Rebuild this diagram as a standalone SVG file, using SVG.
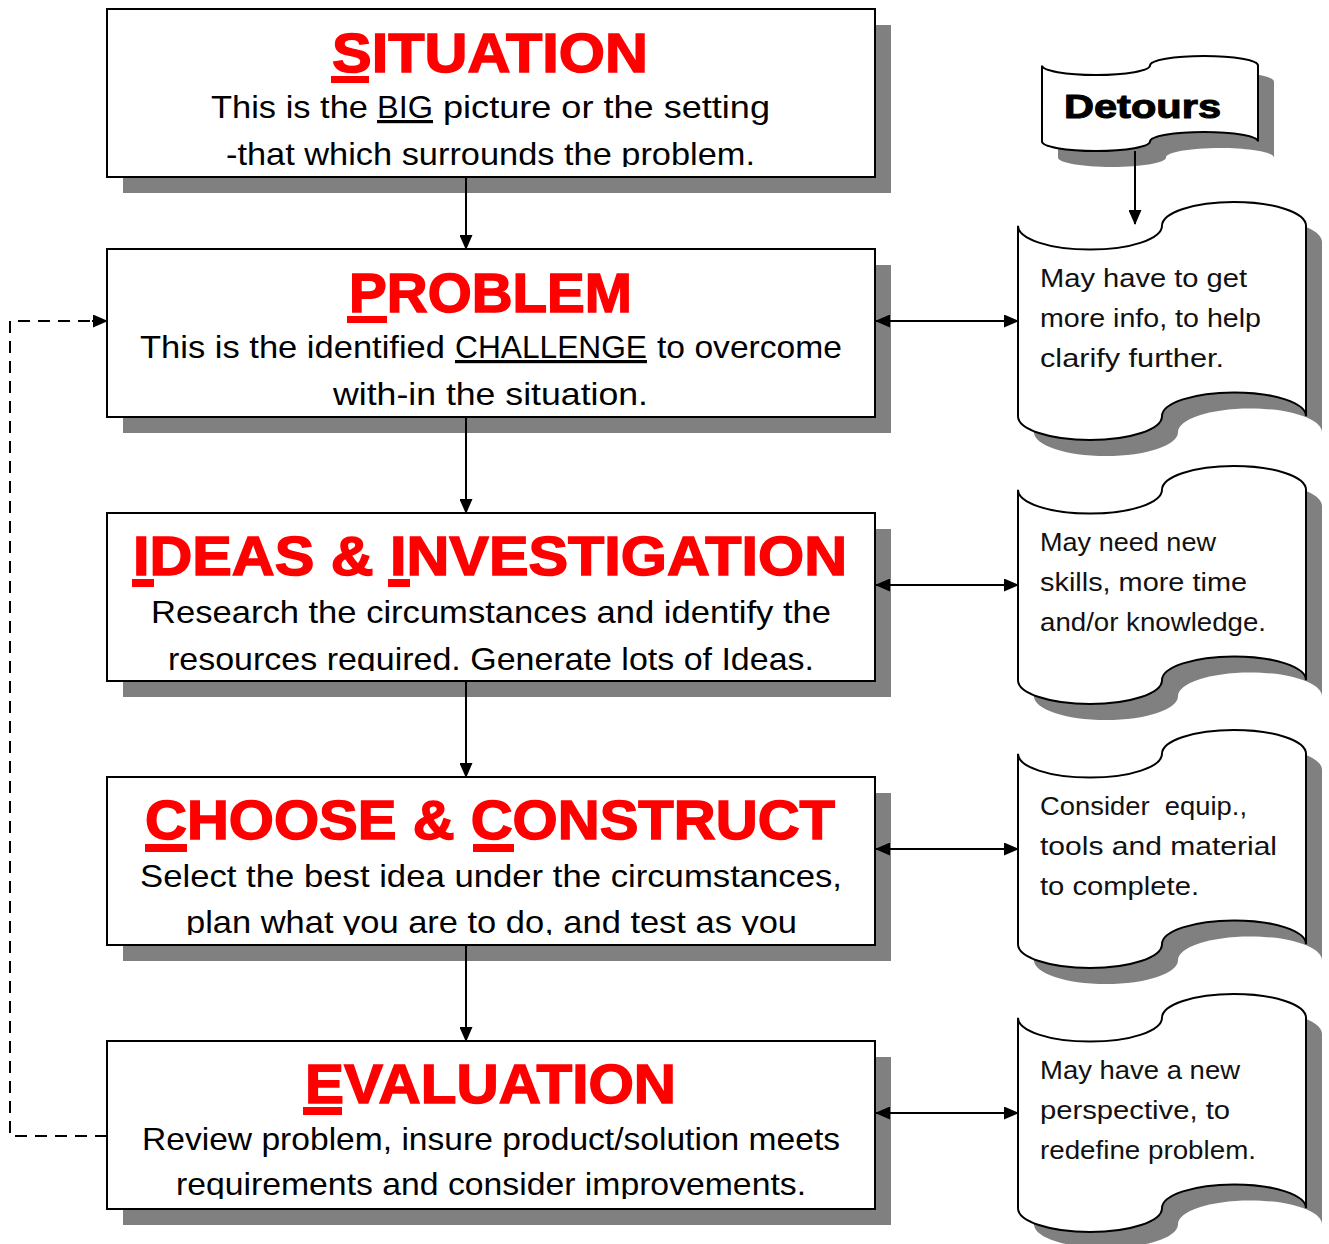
<svg xmlns="http://www.w3.org/2000/svg" xmlns:xlink="http://www.w3.org/1999/xlink" width="1329" height="1244" viewBox="0 0 1329 1244">
<style>
.box{fill:#fff;stroke:#000;stroke-width:2}
.shadow{fill:#808080}
.title{font-family:"Liberation Sans",Arial,sans-serif;font-weight:bold;font-size:56px;fill:#ff0000;stroke:#ff0000;stroke-width:1.5}
.bar{fill:#ff0000}
.body{font-family:"Liberation Sans Narrow","Liberation Sans",Arial,sans-serif;font-size:32px;fill:#000}
.note{font-family:"Liberation Sans",Arial,sans-serif;font-size:25px;fill:#111}
.tape{fill:#fff;stroke:#000;stroke-width:2}
.conn{fill:none;stroke:#000;stroke-width:2}
.dash{fill:none;stroke:#000;stroke-width:2;stroke-dasharray:12 8}
.det{font-family:"Liberation Sans",Arial,sans-serif;font-weight:900;font-size:33px;fill:#000;stroke:#000;stroke-width:1}
</style>
<defs>
<marker id="ah" markerUnits="userSpaceOnUse" markerWidth="15" markerHeight="13" refX="14" refY="6.5" orient="auto-start-reverse" viewBox="0 0 15 13">
<path d="M0,0 L15,6.5 L0,13 Z" fill="#000"/>
</marker>
<path id="tapeShape" d="M0,23.8 C0,36.9 31.7,47.6 72,47.6 C112.3,47.6 144,36.9 144,23.8 C144,10.7 175.7,0 216,0 C256.3,0 288,10.7 288,23.8 L288,214.2 C288,201.1 256.3,190.4 216,190.4 C175.7,190.4 144,201.1 144,214.2 C144,227.3 112.3,238 72,238 C31.7,238 0,227.3 0,214.2 Z"/>
<path id="detShape" d="M0,9.5 C0,14.7 23.8,19 54,19 C84.2,19 108,14.7 108,9.5 C108,4.3 131.8,0 162,0 C192.2,0 216,4.3 216,9.5 L216,85.5 C216,80.3 192.2,76 162,76 C131.8,76 108,80.3 108,85.5 C108,90.7 84.2,95 54,95 C23.8,95 0,90.7 0,85.5 Z"/>
<clipPath id="c1"><rect x="107" y="9" width="768" height="158"/></clipPath>
<clipPath id="c2"><rect x="107" y="249" width="768" height="158"/></clipPath>
<clipPath id="c3"><rect x="107" y="513" width="768" height="158"/></clipPath>
<clipPath id="c4"><rect x="107" y="777" width="768" height="158"/></clipPath>
<clipPath id="c5"><rect x="107" y="1041" width="768" height="158"/></clipPath>
</defs>
<rect width="1329" height="1244" fill="#fff"/>

<g id="situation">
<rect class="shadow" x="123" y="25" width="768" height="168"/>
<rect class="box" x="107" y="9" width="768" height="168"/>
<text class="title" x="332" y="72" textLength="316" lengthAdjust="spacingAndGlyphs">SITUATION</text>
<rect class="bar" x="331" y="76" width="38" height="7"/>
<text class="body" y="118"><tspan x="211" textLength="157" lengthAdjust="spacingAndGlyphs">This is the</tspan><tspan x="377" textLength="56" lengthAdjust="spacingAndGlyphs" text-decoration="underline">BIG</tspan><tspan x="443" textLength="327" lengthAdjust="spacingAndGlyphs">picture or the setting</tspan></text>
<g clip-path="url(#c1)"><text class="body" x="226" y="165" textLength="529" lengthAdjust="spacingAndGlyphs">-that which surrounds the problem.</text></g>
</g>

<g id="problem">
<rect class="shadow" x="123" y="265" width="768" height="168"/>
<rect class="box" x="107" y="249" width="768" height="168"/>
<text class="title" x="349" y="312" textLength="283" lengthAdjust="spacingAndGlyphs">PROBLEM</text>
<rect class="bar" x="347" y="316" width="40" height="7"/>
<text class="body" y="358"><tspan x="140" textLength="305" lengthAdjust="spacingAndGlyphs">This is the identified</tspan><tspan x="455" textLength="192" lengthAdjust="spacingAndGlyphs" text-decoration="underline">CHALLENGE</tspan><tspan x="657" textLength="185" lengthAdjust="spacingAndGlyphs">to overcome</tspan></text>
<g clip-path="url(#c2)"><text class="body" x="333" y="405" textLength="315" lengthAdjust="spacingAndGlyphs">with-in the situation.</text></g>
</g>

<g id="ideas">
<rect class="shadow" x="123" y="529" width="768" height="168"/>
<rect class="box" x="107" y="513" width="768" height="168"/>
<text class="title" x="133" y="575" textLength="714" lengthAdjust="spacingAndGlyphs">IDEAS &amp; INVESTIGATION</text>
<rect class="bar" x="132" y="579" width="22" height="8"/>
<rect class="bar" x="388" y="579" width="22" height="8"/>
<text class="body" x="151" y="623" textLength="680" lengthAdjust="spacingAndGlyphs">Research the circumstances and identify the</text>
<g clip-path="url(#c3)"><text class="body" x="168" y="670" textLength="646" lengthAdjust="spacingAndGlyphs">resources required. Generate lots of Ideas.</text></g>
</g>

<g id="choose">
<rect class="shadow" x="123" y="793" width="768" height="168"/>
<rect class="box" x="107" y="777" width="768" height="168"/>
<text class="title" x="145" y="839" textLength="690" lengthAdjust="spacingAndGlyphs">CHOOSE &amp; CONSTRUCT</text>
<rect class="bar" x="145" y="844" width="42" height="8"/>
<rect class="bar" x="473" y="844" width="41" height="8"/>
<text class="body" x="140" y="887" textLength="702" lengthAdjust="spacingAndGlyphs">Select the best idea under the circumstances,</text>
<g clip-path="url(#c4)"><text class="body" x="186" y="933" textLength="611" lengthAdjust="spacingAndGlyphs">plan what you are to do, and test as you</text></g>
</g>

<g id="evaluation">
<rect class="shadow" x="123" y="1057" width="768" height="168"/>
<rect class="box" x="107" y="1041" width="768" height="168"/>
<text class="title" x="305" y="1103" textLength="371" lengthAdjust="spacingAndGlyphs">EVALUATION</text>
<rect class="bar" x="303" y="1107" width="39" height="8"/>
<text class="body" x="142" y="1150" textLength="698" lengthAdjust="spacingAndGlyphs">Review problem, insure product/solution meets</text>
<g clip-path="url(#c5)"><text class="body" x="176" y="1195" textLength="630" lengthAdjust="spacingAndGlyphs">requirements and consider improvements.</text></g>
</g>

<g id="detours">
<use xlink:href="#detShape" href="#detShape" class="shadow" transform="translate(1058,72)"/>
<use xlink:href="#detShape" href="#detShape" class="tape" transform="translate(1042,56)"/>
<text class="det" x="1064" y="118" textLength="157" lengthAdjust="spacingAndGlyphs">Detours</text>
</g>

<g id="detour1">
<use xlink:href="#tapeShape" href="#tapeShape" class="shadow" transform="translate(1034,218)"/>
<use xlink:href="#tapeShape" href="#tapeShape" class="tape" transform="translate(1018,202)"/>
<text class="note" x="1040" y="287" textLength="207" lengthAdjust="spacingAndGlyphs">May have to get</text>
<text class="note" x="1040" y="327" textLength="221" lengthAdjust="spacingAndGlyphs">more info, to help</text>
<text class="note" x="1040" y="367" textLength="184" lengthAdjust="spacingAndGlyphs">clarify further.</text>
</g>

<g id="detour2">
<use xlink:href="#tapeShape" href="#tapeShape" class="shadow" transform="translate(1034,482)"/>
<use xlink:href="#tapeShape" href="#tapeShape" class="tape" transform="translate(1018,466)"/>
<text class="note" x="1040" y="551" textLength="176" lengthAdjust="spacingAndGlyphs">May need new</text>
<text class="note" x="1040" y="591" textLength="207" lengthAdjust="spacingAndGlyphs">skills, more time</text>
<text class="note" x="1040" y="631" textLength="226" lengthAdjust="spacingAndGlyphs">and/or knowledge.</text>
</g>

<g id="detour3">
<use xlink:href="#tapeShape" href="#tapeShape" class="shadow" transform="translate(1034,746)"/>
<use xlink:href="#tapeShape" href="#tapeShape" class="tape" transform="translate(1018,730)"/>
<text class="note" x="1040" y="815" textLength="207" lengthAdjust="spacingAndGlyphs" xml:space="preserve">Consider  equip.,</text>
<text class="note" x="1040" y="855" textLength="237" lengthAdjust="spacingAndGlyphs">tools and material</text>
<text class="note" x="1040" y="895" textLength="159" lengthAdjust="spacingAndGlyphs">to complete.</text>
</g>

<g id="detour4">
<use xlink:href="#tapeShape" href="#tapeShape" class="shadow" transform="translate(1034,1010)"/>
<use xlink:href="#tapeShape" href="#tapeShape" class="tape" transform="translate(1018,994)"/>
<text class="note" x="1040" y="1079" textLength="200" lengthAdjust="spacingAndGlyphs">May have a new</text>
<text class="note" x="1040" y="1119" textLength="190" lengthAdjust="spacingAndGlyphs">perspective, to</text>
<text class="note" x="1040" y="1159" textLength="216" lengthAdjust="spacingAndGlyphs">redefine problem.</text>
</g>

<g id="connectors">
<line class="conn" x1="466" y1="177" x2="466" y2="249" marker-end="url(#ah)"/>
<line class="conn" x1="466" y1="417" x2="466" y2="513" marker-end="url(#ah)"/>
<line class="conn" x1="466" y1="681" x2="466" y2="777" marker-end="url(#ah)"/>
<line class="conn" x1="466" y1="945" x2="466" y2="1041" marker-end="url(#ah)"/>
<line class="conn" x1="876" y1="321" x2="1018" y2="321" marker-start="url(#ah)" marker-end="url(#ah)"/>
<line class="conn" x1="876" y1="585" x2="1018" y2="585" marker-start="url(#ah)" marker-end="url(#ah)"/>
<line class="conn" x1="876" y1="849" x2="1018" y2="849" marker-start="url(#ah)" marker-end="url(#ah)"/>
<line class="conn" x1="876" y1="1113" x2="1018" y2="1113" marker-start="url(#ah)" marker-end="url(#ah)"/>
<line class="conn" x1="1135" y1="151" x2="1135" y2="224" marker-end="url(#ah)"/>
<path class="dash" d="M107,1136 H10 V321 H94"/>
<line class="conn" x1="92" y1="321" x2="107" y2="321" marker-end="url(#ah)"/>
</g>
</svg>
